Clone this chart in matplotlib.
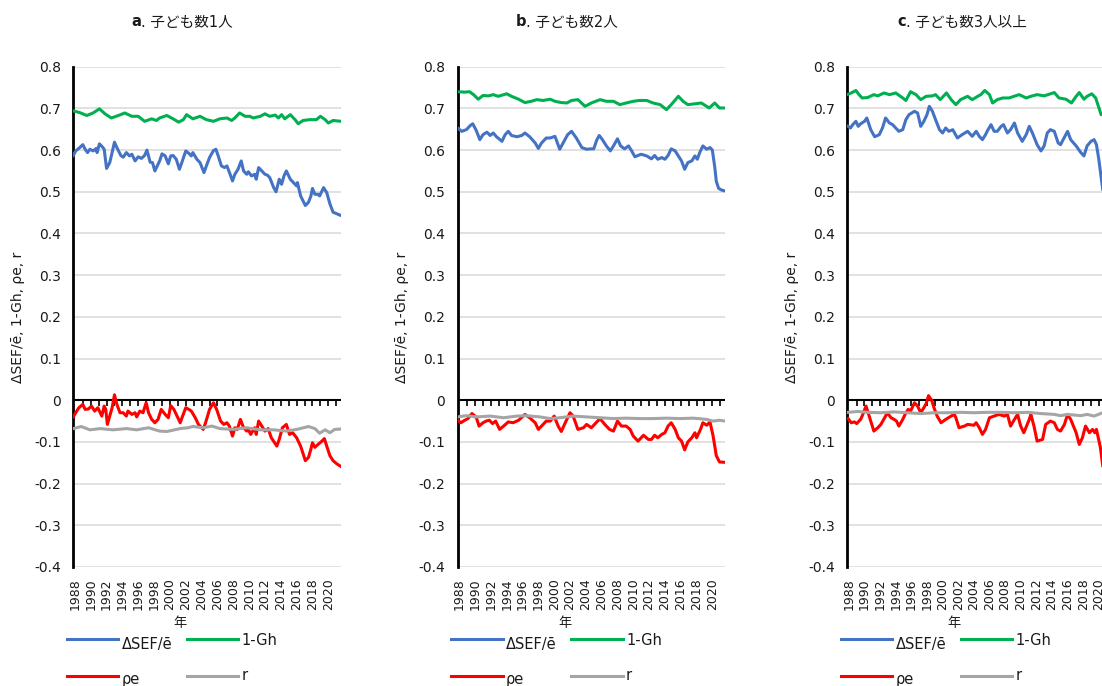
import numpy as np
import matplotlib
matplotlib.use('Agg')
import matplotlib.pyplot as plt
from matplotlib.lines import Line2D

plt.rcParams['font.family'] = ['DejaVu Sans', 'Noto Sans CJK JP']

# ---- data: (year, value) ----
# a. 子ども数1人
a_sef = [(1987.8, .587), (1988.1, .598), (1988.5, .604), (1989.0, .613), (1989.3, .602), (1989.6, .594),
         (1989.9, .602), (1990.3, .598), (1990.7, .604), (1990.8, .594), (1991.1, .615), (1991.5, .607),
         (1991.7, .602), (1992.0, .556), (1992.4, .570), (1992.6, .586), (1993.0, .619), (1993.3, .606),
         (1993.8, .587), (1994.1, .583), (1994.5, .594), (1994.9, .586), (1995.2, .590), (1995.6, .574),
         (1996.0, .584), (1996.4, .580), (1996.8, .587), (1997.1, .600), (1997.5, .571), (1997.8, .570),
         (1998.1, .550), (1998.4, .562), (1998.7, .574), (1999.0, .591), (1999.4, .586), (1999.8, .567),
         (2000.1, .586), (2000.4, .587), (2000.8, .578), (2001.2, .554), (2001.5, .570), (2002.0, .598),
         (2002.4, .592), (2002.7, .586), (2002.9, .594), (2003.4, .578), (2003.8, .570), (2004.3, .546),
         (2004.6, .562), (2005.0, .582), (2005.5, .599), (2005.8, .602), (2006.1, .586), (2006.5, .562),
         (2006.9, .558), (2007.2, .562), (2007.6, .542), (2007.9, .526), (2008.2, .542), (2008.6, .554),
         (2009.0, .574), (2009.3, .550), (2009.7, .542), (2009.9, .548), (2010.3, .538), (2010.7, .542),
         (2010.9, .530), (2011.2, .558), (2011.6, .550), (2012.0, .542), (2012.3, .540), (2012.6, .534),
         (2013.1, .510), (2013.4, .500), (2013.8, .530), (2014.1, .518), (2014.4, .538), (2014.7, .550),
         (2015.2, .530), (2015.6, .522), (2016.0, .514), (2016.1, .522), (2016.5, .490), (2017.1, .467),
         (2017.5, .475), (2017.8, .490), (2018.0, .508), (2018.3, .494), (2018.7, .494), (2018.9, .490),
         (2019.4, .510), (2019.8, .498), (2020.2, .471), (2020.6, .451), (2021.1, .447), (2021.6, .443)]
a_gh = [(1987.8, .694), (1988.6, .690), (1989.5, .683), (1990.3, .689), (1991.1, .699), (1991.8, .687),
        (1992.6, .677), (1993.5, .683), (1994.3, .689), (1995.2, .681), (1996.0, .681), (1996.8, .669),
        (1997.7, .675), (1998.3, .671), (1998.7, .677), (1999.6, .683), (2000.4, .675), (2001.1, .667),
        (2001.7, .673), (2002.1, .685), (2002.9, .675), (2003.8, .681), (2004.6, .673), (2005.5, .669),
        (2006.3, .675), (2007.2, .677), (2007.8, .671), (2008.2, .677), (2008.8, .689), (2009.5, .681),
        (2010.1, .681), (2010.5, .677), (2011.4, .681), (2012.0, .687), (2012.6, .681), (2013.3, .684),
        (2013.7, .677), (2014.1, .685), (2014.5, .675), (2015.2, .685), (2015.8, .673), (2016.2, .663),
        (2016.8, .671), (2017.7, .673), (2018.5, .673), (2019.0, .681), (2019.6, .673), (2020.0, .665),
        (2020.6, .671), (2021.6, .669)]
a_rho = [(1987.8, -.040), (1988.1, -.030), (1988.5, -.018), (1989.0, -.010), (1989.3, -.022), (1989.7, -.021),
         (1990.1, -.014), (1990.5, -.026), (1990.9, -.018), (1991.4, -.038), (1991.7, -.014), (1991.9, -.022),
         (1992.1, -.058), (1992.4, -.038), (1992.7, -.018), (1993.0, .013), (1993.3, -.010), (1993.7, -.030),
         (1994.1, -.030), (1994.5, -.038), (1994.7, -.026), (1995.2, -.034), (1995.6, -.030), (1995.8, -.040),
         (1996.2, -.026), (1996.6, -.030), (1997.0, -.006), (1997.3, -.030), (1997.7, -.046), (1998.1, -.054),
         (1998.5, -.046), (1998.9, -.022), (1999.4, -.034), (1999.8, -.042), (2000.1, -.013), (2000.5, -.022),
         (2000.9, -.038), (2001.3, -.054), (2001.6, -.038), (2002.0, -.018), (2002.4, -.022), (2002.7, -.026),
         (2003.2, -.042), (2003.6, -.058), (2004.2, -.070), (2004.5, -.054), (2005.0, -.022), (2005.5, -.006),
         (2005.9, -.022), (2006.4, -.050), (2006.8, -.058), (2007.2, -.054), (2007.5, -.062), (2007.9, -.086),
         (2008.2, -.066), (2008.5, -.070), (2008.9, -.046), (2009.3, -.066), (2009.7, -.074), (2009.9, -.070),
         (2010.2, -.082), (2010.7, -.066), (2010.9, -.082), (2011.2, -.050), (2011.6, -.062), (2012.0, -.074),
         (2012.4, -.068), (2012.8, -.090), (2013.5, -.110), (2013.8, -.094), (2014.2, -.066), (2014.7, -.058),
         (2015.1, -.082), (2015.5, -.078), (2016.0, -.090), (2016.5, -.110), (2017.1, -.145), (2017.5, -.137),
         (2017.8, -.117), (2018.0, -.102), (2018.3, -.113), (2018.7, -.106), (2019.2, -.098), (2019.5, -.092),
         (2019.8, -.110), (2020.2, -.133), (2020.6, -.145), (2021.1, -.153), (2021.6, -.159)]
a_r = [(1987.8, -.068), (1988.8, -.063), (1989.9, -.071), (1991.2, -.068), (1992.8, -.071), (1994.5, -.068),
       (1995.8, -.071), (1997.3, -.066), (1998.7, -.074), (1999.6, -.075), (2001.3, -.068), (2002.3, -.066),
       (2002.9, -.063), (2004.2, -.066), (2005.3, -.062), (2006.3, -.068), (2008.0, -.070), (2009.7, -.066),
       (2011.4, -.071), (2013.1, -.071), (2014.7, -.074), (2016.0, -.070), (2017.5, -.063), (2018.3, -.068),
       (2018.9, -.079), (2019.6, -.071), (2020.2, -.078), (2020.8, -.070), (2021.6, -.069)]

# b. 子ども数2人
b_sef = [(1987.8, .653), (1988.3, .645), (1988.9, .649), (1989.4, .659), (1989.7, .663), (1990.1, .649),
         (1990.6, .625), (1991.0, .637), (1991.5, .643), (1991.9, .635), (1992.3, .641), (1992.7, .632),
         (1993.4, .621), (1993.8, .637), (1994.2, .645), (1994.6, .635), (1995.3, .632), (1995.9, .635),
         (1996.3, .641), (1996.9, .632), (1997.6, .617), (1998.0, .604), (1998.4, .617), (1999.0, .629),
         (1999.5, .629), (2000.1, .633), (2000.7, .602), (2001.1, .616), (2001.7, .637), (2002.2, .645),
         (2002.8, .629), (2003.5, .606), (2004.1, .602), (2004.7, .603), (2005.0, .603), (2005.4, .625),
         (2005.7, .635), (2006.1, .625), (2006.6, .610), (2007.1, .598), (2007.5, .610), (2008.0, .627),
         (2008.4, .610), (2008.9, .603), (2009.4, .610), (2009.8, .598), (2010.2, .584), (2010.6, .587),
         (2011.0, .590), (2011.7, .586), (2012.3, .579), (2012.7, .587), (2013.1, .578), (2013.6, .582),
         (2014.0, .578), (2014.4, .587), (2014.8, .603), (2015.3, .598), (2015.7, .586), (2016.1, .574),
         (2016.5, .554), (2016.9, .570), (2017.4, .574), (2017.8, .586), (2018.1, .578), (2018.4, .594),
         (2018.8, .610), (2019.3, .602), (2019.7, .606), (2020.0, .600), (2020.3, .560), (2020.5, .525),
         (2020.8, .508), (2021.2, .504), (2021.6, .502)]
b_gh = [(1987.8, .740), (1988.7, .739), (1989.3, .740), (1989.8, .733), (1990.4, .722), (1991.0, .731),
        (1991.7, .730), (1992.3, .733), (1992.9, .729), (1994.0, .735), (1994.6, .729), (1995.5, .722),
        (1996.3, .714), (1997.1, .717), (1997.8, .721), (1998.6, .719), (1999.5, .722), (2000.1, .717),
        (2000.9, .714), (2001.6, .713), (2002.2, .719), (2003.0, .721), (2003.9, .705), (2004.7, .713),
        (2005.8, .721), (2006.6, .717), (2007.5, .717), (2008.3, .709), (2009.1, .713), (2010.0, .717),
        (2010.8, .719), (2011.7, .719), (2012.5, .713), (2013.4, .709), (2014.2, .697), (2014.8, .709),
        (2015.7, .729), (2016.3, .717), (2016.9, .709), (2017.8, .711), (2018.6, .713), (2019.6, .701),
        (2020.3, .713), (2020.9, .701), (2021.6, .701)]
b_rho = [(1987.8, -.048), (1988.2, -.054), (1988.7, -.048), (1989.1, -.044), (1989.6, -.032), (1990.0, -.038),
         (1990.2, -.044), (1990.5, -.062), (1991.0, -.054), (1991.4, -.050), (1991.8, -.048), (1992.2, -.056),
         (1992.6, -.050), (1993.1, -.070), (1993.6, -.062), (1994.2, -.052), (1994.8, -.054), (1995.5, -.048),
         (1996.3, -.034), (1996.9, -.042), (1997.6, -.054), (1998.0, -.070), (1998.6, -.058), (1999.0, -.050),
         (1999.5, -.050), (2000.0, -.038), (2000.5, -.062), (2000.9, -.075), (2001.4, -.054), (2002.0, -.030),
         (2002.4, -.038), (2003.0, -.070), (2003.7, -.066), (2004.1, -.058), (2004.7, -.066), (2005.1, -.058),
         (2005.8, -.044), (2006.4, -.058), (2007.0, -.070), (2007.5, -.074), (2008.0, -.050), (2008.5, -.062),
         (2009.1, -.062), (2009.6, -.070), (2010.0, -.086), (2010.6, -.098), (2011.3, -.084), (2011.9, -.094),
         (2012.3, -.094), (2012.7, -.084), (2013.1, -.090), (2013.6, -.082), (2014.0, -.078), (2014.4, -.062),
         (2014.8, -.054), (2015.3, -.070), (2015.7, -.090), (2016.1, -.098), (2016.5, -.119), (2016.9, -.100),
         (2017.4, -.090), (2017.8, -.078), (2018.0, -.090), (2018.5, -.070), (2018.8, -.054), (2019.3, -.060),
         (2019.7, -.052), (2020.1, -.086), (2020.5, -.133), (2020.9, -.148), (2021.6, -.149)]
b_r = [(1987.8, -.040), (1988.9, -.037), (1990.2, -.040), (1991.9, -.038), (1993.6, -.042), (1995.3, -.038),
       (1996.5, -.037), (1998.2, -.040), (1999.5, -.044), (2000.7, -.042), (2002.4, -.038), (2004.1, -.040),
       (2005.8, -.042), (2007.5, -.044), (2009.1, -.043), (2010.8, -.044), (2012.5, -.044), (2014.2, -.043),
       (2015.9, -.044), (2017.6, -.043), (2019.3, -.046), (2020.1, -.050), (2020.9, -.048), (2021.6, -.050)]

# c. 子ども数3人以上
c_sef = [(1987.9, .657), (1988.2, .653), (1988.5, .661), (1988.9, .669), (1989.2, .657), (1989.5, .663),
         (1990.0, .669), (1990.3, .677), (1990.8, .649), (1991.3, .632), (1991.9, .637), (1992.3, .653),
         (1992.7, .677), (1993.2, .665), (1993.6, .661), (1994.4, .645), (1994.9, .649), (1995.3, .673),
         (1995.7, .685), (1996.4, .693), (1996.8, .689), (1997.2, .657), (1997.6, .669), (1998.0, .685),
         (1998.3, .705), (1998.7, .693), (1999.1, .673), (1999.6, .649), (2000.0, .641), (2000.4, .653),
         (2000.8, .645), (2001.3, .649), (2001.9, .629), (2002.5, .637), (2003.2, .645), (2003.8, .633),
         (2004.3, .645), (2004.7, .633), (2005.1, .625), (2005.5, .637), (2005.7, .645), (2006.2, .661),
         (2006.6, .645), (2007.0, .645), (2007.5, .657), (2007.8, .661), (2008.3, .641), (2008.7, .649),
         (2009.2, .665), (2009.6, .641), (2010.2, .621), (2010.7, .637), (2011.1, .657), (2011.5, .641),
         (2012.1, .613), (2012.6, .598), (2013.0, .610), (2013.4, .641), (2013.8, .649), (2014.3, .645),
         (2014.8, .617), (2015.1, .613), (2016.0, .645), (2016.4, .625), (2017.1, .610), (2017.7, .594),
         (2018.1, .586), (2018.5, .610), (2019.0, .621), (2019.4, .625), (2019.7, .613), (2020.0, .578),
         (2020.5, .506)]
c_gh = [(1987.9, .734), (1988.3, .737), (1988.9, .743), (1989.3, .733), (1989.7, .725), (1990.4, .726),
        (1991.2, .733), (1991.7, .730), (1992.5, .737), (1993.2, .733), (1994.0, .737), (1994.9, .725),
        (1995.3, .719), (1995.9, .740), (1996.6, .733), (1997.2, .721), (1997.9, .729), (1998.7, .730),
        (1999.1, .733), (1999.7, .721), (2000.5, .737), (2001.1, .721), (2001.7, .709), (2002.3, .721),
        (2003.2, .729), (2003.8, .721), (2004.5, .729), (2004.9, .733), (2005.4, .743), (2006.0, .733),
        (2006.4, .713), (2007.0, .721), (2007.7, .725), (2008.5, .725), (2009.8, .733), (2010.7, .725),
        (2011.3, .729), (2012.1, .733), (2013.0, .730), (2014.3, .738), (2014.9, .725), (2015.8, .722),
        (2016.5, .713), (2017.1, .729), (2017.5, .738), (2018.1, .722), (2018.5, .729), (2019.1, .735),
        (2019.6, .725), (2020.3, .685), (2020.5, .685)]
c_rho = [(1987.9, -.044), (1988.3, -.054), (1988.7, -.052), (1989.0, -.056), (1989.5, -.046), (1989.7, -.038),
         (1990.2, -.014), (1990.6, -.038), (1991.2, -.074), (1991.7, -.066), (1992.1, -.058), (1992.7, -.038),
         (1992.9, -.030), (1993.4, -.042), (1993.8, -.046), (1994.1, -.050), (1994.4, -.062), (1994.9, -.046),
         (1995.3, -.030), (1995.6, -.022), (1995.9, -.026), (1996.4, -.006), (1996.8, -.014), (1997.2, -.030),
         (1997.6, -.018), (1997.9, -.008), (1998.2, .011), (1998.6, .000), (1998.9, -.018), (1999.3, -.038),
         (1999.8, -.054), (2000.4, -.046), (2001.1, -.038), (2001.5, -.034), (2001.7, -.042), (2002.1, -.066),
         (2002.8, -.062), (2003.2, -.058), (2004.0, -.060), (2004.3, -.054), (2004.7, -.066), (2005.1, -.082),
         (2005.5, -.070), (2006.0, -.042), (2006.6, -.038), (2007.2, -.034), (2007.9, -.038), (2008.3, -.034),
         (2008.7, -.062), (2009.2, -.046), (2009.6, -.034), (2010.0, -.062), (2010.4, -.078), (2011.1, -.046),
         (2011.3, -.034), (2011.7, -.062), (2012.1, -.098), (2012.8, -.094), (2013.2, -.058), (2013.8, -.050),
         (2014.3, -.054), (2014.7, -.070), (2015.1, -.074), (2015.6, -.058), (2016.0, -.034), (2016.4, -.046),
         (2017.1, -.078), (2017.5, -.106), (2017.9, -.090), (2018.3, -.062), (2018.8, -.078), (2019.2, -.070),
         (2019.5, -.078), (2019.7, -.070), (2020.2, -.113), (2020.5, -.157)]
c_r = [(1987.9, -.029), (1989.1, -.027), (1990.4, -.029), (1992.1, -.030), (1993.8, -.028), (1995.5, -.030),
       (1997.2, -.032), (1998.9, -.030), (2000.6, -.030), (2002.3, -.029), (2004.0, -.030), (2005.7, -.029),
       (2007.5, -.029), (2009.2, -.030), (2010.9, -.029), (2012.6, -.032), (2014.3, -.034), (2015.1, -.037),
       (2016.0, -.034), (2017.7, -.037), (2018.5, -.034), (2019.4, -.038), (2020.5, -.030)]

titles = [('a', '. 子ども数1人'), ('b', '. 子ども数2人'), ('c', '. 子ども数3人以上')]
labels = ['ΔSEF/ē', '1-Gh', 'ρe', 'r']
colors = ['#4472C4', '#00B050', '#FF0000', '#A5A5A5']
panels = [[a_sef, a_gh, a_rho, a_r], [b_sef, b_gh, b_rho, b_r], [c_sef, c_gh, c_rho, c_r]]
yticks = [-0.4, -0.3, -0.2, -0.1, 0, 0.1, 0.2, 0.3, 0.4, 0.5, 0.6, 0.7, 0.8]
ylabs = ['-0.4', '-0.3', '-0.2', '-0.1', '0', '0.1', '0.2', '0.3', '0.4', '0.5', '0.6', '0.7', '0.8']
xticks = list(range(1988, 2021, 2))

W, H = 1102, 686
TXT = '#1a1a1a'
fig = plt.figure(figsize=(W / 100, H / 100), dpi=100)


def fx(p):
    return p / W


def fy(p):
    return 1 - p / H


# left edge, width (px), title split offset
geo = [(73.3, 267.7, 67.7), (457.7, 267.3, 68.3), (847.3, 264.0, 58.7)]
top, bot = 66.7, 567.0

for (L, wd, split), (letter, rest), series in zip(geo, titles, panels):
    ax = fig.add_axes([fx(L), fy(bot), wd / W, (bot - top) / H])
    ax.set_xlim(1987.8, 2021.6)
    ax.set_ylim(-0.4, 0.8)
    for k in ['top', 'right', 'bottom']:
        ax.spines[k].set_visible(False)
    ax.spines['left'].set_linewidth(2.0)
    ax.spines['left'].set_color('black')
    ax.set_yticks(yticks)
    ax.set_yticklabels(ylabs)
    ax.tick_params(axis='y', length=0, pad=9, labelsize=10, labelcolor=TXT)
    ax.set_xticks(xticks)
    ax.set_xticklabels([str(t) for t in xticks], rotation=90)
    ax.tick_params(axis='x', length=0, pad=8, labelsize=9, labelcolor=TXT)
    ax.grid(axis='y', color='#D9D9D9', lw=1.1)
    ax.set_axisbelow(True)
    ax.axhline(0, color='black', lw=1.5, zorder=1.5)

    # year ticks on the zero line
    sec = ax.secondary_xaxis(0.4 / 1.2)
    sec.spines['bottom'].set_visible(False)
    sec.set_xticks(range(1989, 2022))
    sec.tick_params(axis='x', length=4, width=1.2, color='black', direction='out', labelbottom=False)

    for s, c in zip(series, colors):
        x, y = zip(*s)
        ax.plot(x, y, color=c, lw=2.2, zorder=3, solid_joinstyle='round')

    fig.text(fx(L + split), fy(22), letter, ha='right', va='center', fontsize=10.5, weight='bold', color=TXT)
    fig.text(fx(L + split), fy(22), rest, ha='left', va='center', fontsize=10.5, color=TXT)
    fig.text(fx(L - 55.3), fy(317), 'ΔSEF/ē, 1-Gh, ρe, r', rotation=90, ha='center', va='center',
             fontsize=10, color=TXT)
    fig.text(fx(L + 107), fy(623), '年', ha='center', va='center', fontsize=9.5, color=TXT)

    # legend, two rows
    base = [649, 645, 684, 680]
    for k, (lab, c) in enumerate(zip(labels, colors)):
        x0 = L - 6.6 + (k % 2) * 120
        yl = 639 + (k // 2) * 37
        fig.add_artist(Line2D([fx(x0), fx(x0 + 51.6)], [fy(yl), fy(yl)], transform=fig.transFigure,
                              color=c, lw=2.2))
        fig.text(fx(x0 + 55), fy(base[k]), lab, ha='left', va='baseline', fontsize=10.5, color=TXT)

fig.savefig('out.png', dpi=100)
